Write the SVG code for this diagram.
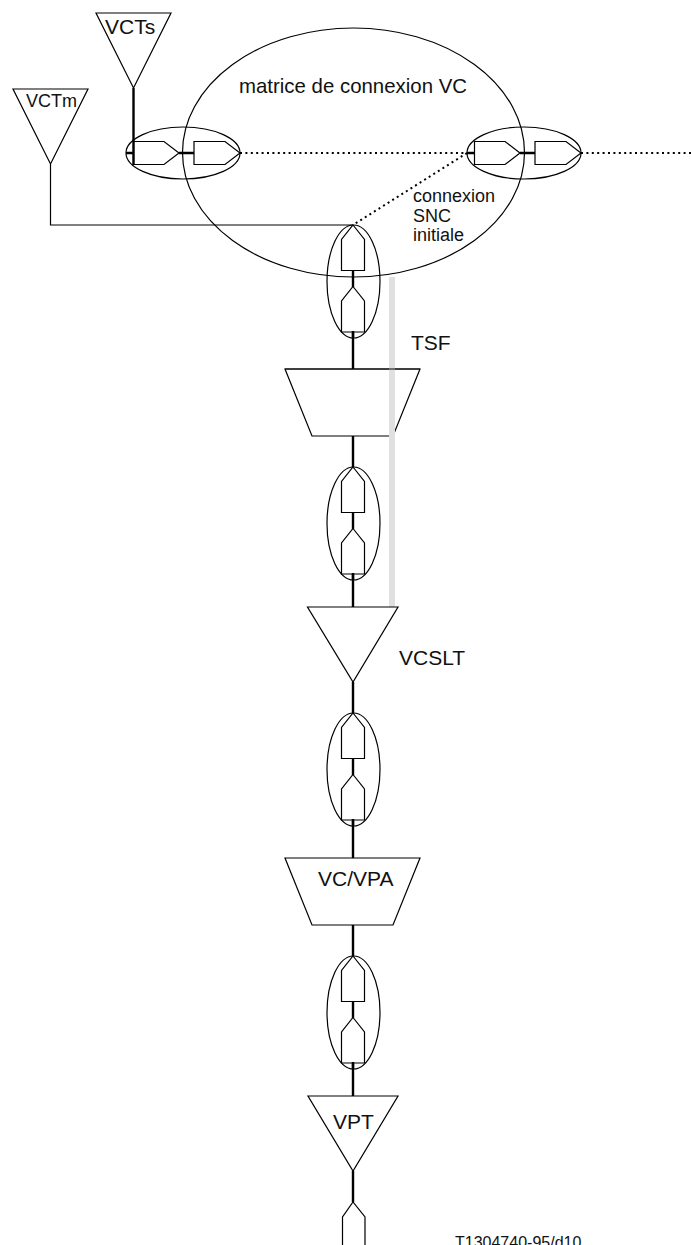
<svg xmlns="http://www.w3.org/2000/svg" width="691" height="1245" viewBox="0 0 691 1245">
<style>
.s{fill:none;stroke:#000;stroke-width:1.2}
.f{fill:#fff;stroke:#000;stroke-width:1.2}
.k{fill:none;stroke:#000;stroke-width:2.4}
.d{fill:none;stroke:#000;stroke-width:2;stroke-dasharray:2 3.400}
.g{fill:none;stroke:#e0e0e0;stroke-width:6}
text{font-family:"Liberation Sans",Arial,sans-serif;font-size:21px;fill:#111}
.m{font-size:18px}
</style>
<defs>
<path id="up" class="s" d="M0 0L11.500 14.500V45.500H-11.500V14.500Z"/>
<g id="pair">
<ellipse class="s" cx="0.500" cy="56.500" rx="26.500" ry="56.500"/>
<use href="#up"/>
<path class="k" d="M0 45.500V62"/>
<use href="#up" y="61.500"/>
<path class="k" d="M0 107V113"/>
</g>
<g id="pairH">
<ellipse class="s" cx="0" cy="0" rx="57" ry="26"/>
<path class="s" d="M-49.500 -11.500H-19L-4 0L-19 11.500H-49.500Z"/>
<path class="k" d="M-57 0H-49.500M-4 0H11"/>
<path class="s" d="M11 -11.500H42L57 0L42 11.500H11Z"/>
</g>
</defs>
<g id="matrice">
<ellipse class="s" cx="353.500" cy="152.500" rx="171" ry="124.500"/>
<text x="239" y="93" textLength="228" lengthAdjust="spacingAndGlyphs">matrice de connexion VC</text>
</g>
<g id="connectors">
<path class="k" d="M133.500 88V165"/>
<path class="s" d="M50.500 164V225H353"/>
<path class="d" d="M240 153H470"/>
<path class="d" d="M581 153H691"/>
<path class="d" d="M467 153L353 225"/>
<path class="k" d="M353 331V369M353 436V467M353 573V607M353 682V713M353 819V858M353 925V956M353 1062V1096M353 1171V1202"/>
</g>
<g id="sw-vcts"><use href="#pairH" x="183" y="153"/></g>
<g id="sw-line"><use href="#pairH" x="524" y="153"/></g>
<g id="VCTs">
<path class="f" d="M96 13H171L133.500 88Z"/>
<text x="105" y="33.500">VCTs</text>
</g>
<g id="VCTm">
<path class="f" d="M13 89H88L50.500 164Z"/>
<text class="m" x="26" y="107">VCTm</text>
</g>
<g id="snc-label">
<text class="m" x="413" y="202">connexion</text>
<text class="m" x="413" y="222">SNC</text>
<text class="m" x="413" y="241">initiale</text>
</g>
<g id="sw-1"><use href="#pair" x="353" y="225"/></g>
<g id="TSF">
<path class="f" d="M285 369H420L393 436H312Z"/>
<path class="g" d="M392 277V607"/>
<path class="s" d="M285 369H420"/>
<text x="411" y="350">TSF</text>
</g>
<g id="sw-2"><use href="#pair" x="353" y="467"/></g>
<g id="VCSLT">
<path class="f" d="M307.500 607H398L353 682Z"/>
<text x="399" y="665">VCSLT</text>
</g>
<g id="sw-3"><use href="#pair" x="353" y="713"/></g>
<g id="VC-VPA">
<path class="f" d="M285 858H420L393 925H312Z"/>
<text x="318" y="885.500">VC/VPA</text>
</g>
<g id="sw-4"><use href="#pair" x="353" y="956"/></g>
<g id="VPT">
<path class="f" d="M308 1096H398L353 1171Z"/>
<text x="333" y="1129">VPT</text>
</g>
<g id="sw-5"><path class="s" d="M342.500 1245V1217L353 1202L365 1217V1245"/></g>
<text id="ref" x="455" y="1248" style="font-size:16px">T1304740-95/d10</text>
</svg>
